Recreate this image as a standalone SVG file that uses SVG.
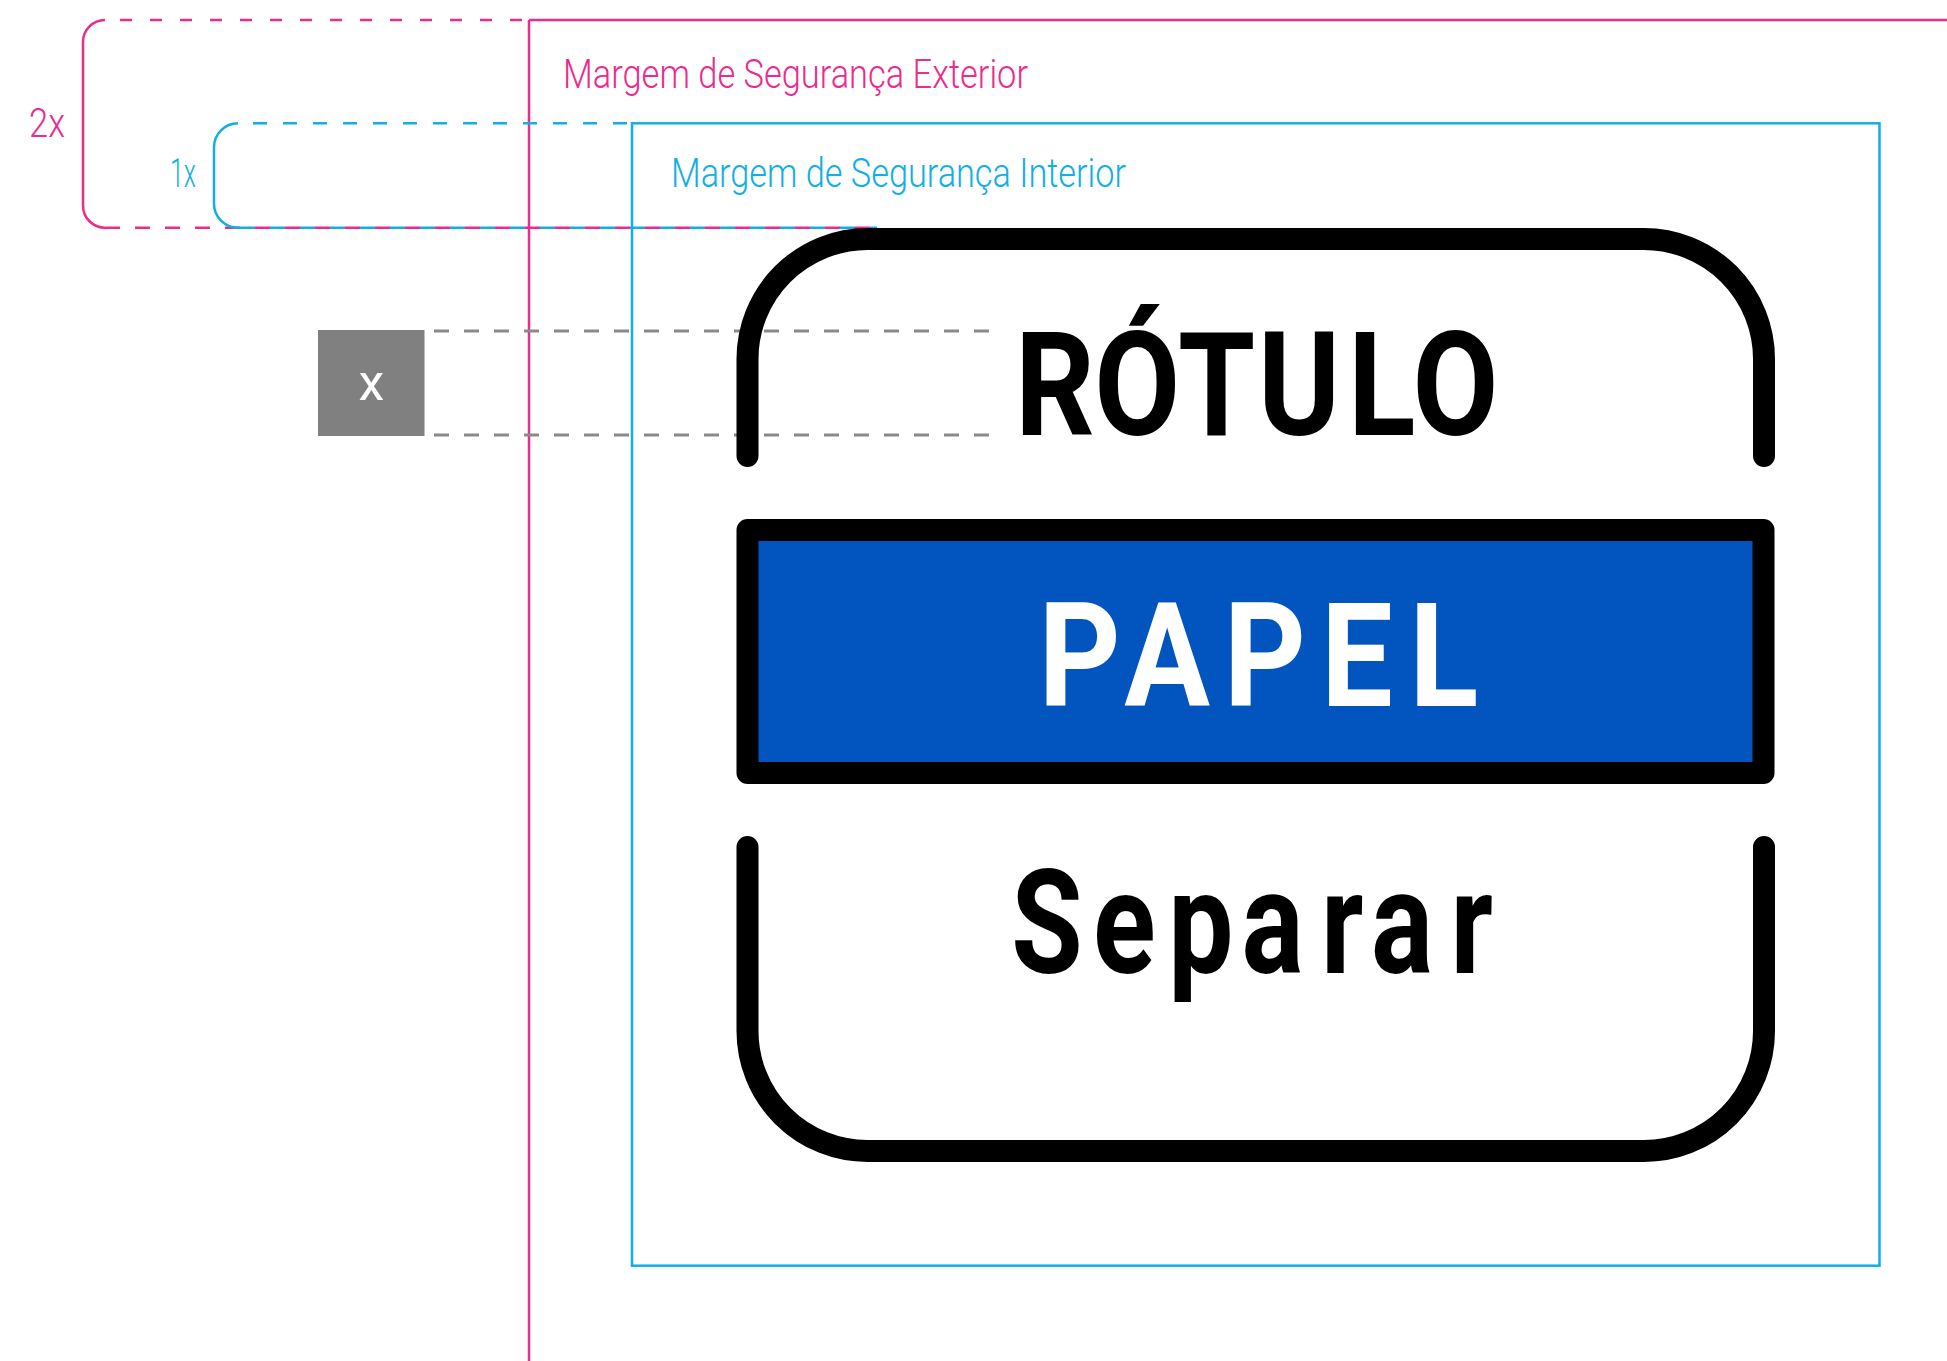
<svg xmlns="http://www.w3.org/2000/svg" width="1947" height="1361" viewBox="0 0 1947 1361">
<style>
.mag{fill:none;stroke:#EC2C8C;stroke-width:2.5}
.cya{fill:none;stroke:#12AEE6;stroke-width:2.5}
.blk{fill:none;stroke:#000;stroke-width:22;stroke-linecap:round;stroke-linejoin:round}
.gdash{fill:none;stroke:#8a8a8a;stroke-width:3;stroke-dasharray:15 15}
.lbl{font-family:Roboto,"Liberation Sans",sans-serif;font-weight:300;font-size:41px}
.big{font-family:Roboto,"Liberation Sans",sans-serif;font-size:145px;text-anchor:middle}
</style>
<rect width="1947" height="1361" fill="#fff"/>
<g id="outer-margin">
<path class="mag" d="M529,20 H1947 M529,20 V1361"/>
<path class="mag" style="stroke-dasharray:12 18" d="M120,20 H529"/>
<path class="mag" d="M105,20 A22,22 0 0 0 83,42 V205.7 A22,22 0 0 0 105,227.7"/>
<path class="mag" style="stroke-dasharray:15 15" d="M105,227.7 H870"/>
<text class="lbl" x="29" y="137.3" fill="#EC2C8C" textLength="36" lengthAdjust="spacingAndGlyphs">2x</text>
<text class="lbl" x="563" y="88.3" fill="#EC2C8C" textLength="465" lengthAdjust="spacingAndGlyphs">Margem de Segurança Exterior</text>
</g>
<g id="inner-margin">
<rect class="cya" x="632" y="123.3" width="1247.5" height="1142.4"/>
<path class="cya" style="stroke-dasharray:14 16" d="M253,123.3 H632"/>
<path class="cya" d="M238,123.3 A24,24 0 0 0 214,147.3 V203.7 A24,24 0 0 0 238,227.7 H240"/>
<path class="cya" style="stroke-dasharray:15 15" d="M240,227.7 H877"/>
<text class="lbl" x="170" y="186.7" fill="#12AEE6" textLength="26" lengthAdjust="spacingAndGlyphs">1x</text>
<text class="lbl" x="671" y="186.7" fill="#12AEE6" textLength="455" lengthAdjust="spacingAndGlyphs">Margem de Segurança Interior</text>
</g>
<g id="unit-x">
<rect x="318" y="330" width="106.5" height="106" fill="#808080"/>
<text x="371.5" y="400" text-anchor="middle" fill="#fff" font-family="Roboto,'Liberation Sans',sans-serif" font-weight="400" font-size="52">x</text>
<path class="gdash" d="M434,331 H994 M434,435 H994"/>
</g>
<g id="label-rotulo">
<path class="blk" d="M747.5,456 V359 A120,120 0 0 1 867.5,239 H1644 A120,120 0 0 1 1764,359 V456"/>
<text class="big" transform="scale(0.86 1)" x="1226.7 1322.4 1414.8 1510.5 1606.6 1692.4" y="435" font-weight="700" fill="#000">RÓTULO</text>
</g>
<g id="label-papel">
<rect x="747.5" y="530" width="1016" height="243" fill="#0255BE" stroke="#000" stroke-width="22" stroke-linejoin="round"/>
<text class="big" transform="scale(0.88 1)" x="1226.9 1326.4 1437.5 1542 1640.7" y="705.7" font-weight="700" fill="#fff">PAPEL</text>
</g>
<g id="label-separar">
<path class="blk" d="M747.5,847 V1031 A120,120 0 0 0 867.5,1151 H1644 A120,120 0 0 0 1764,1031 V847"/>
<text class="big" transform="scale(0.8 1)" x="1308.8 1405.3 1501 1590.6 1677.8 1752.5 1839.6" y="973.3" font-weight="700" font-size="144" fill="#000">Separar</text>
</g>
</svg>
